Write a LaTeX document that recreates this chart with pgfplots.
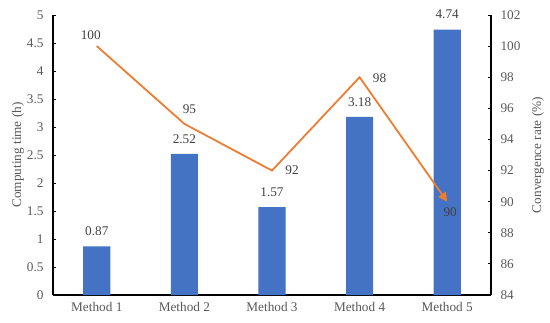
\documentclass[border=0pt]{standalone}
\usepackage{pgfplots}
\pgfplotsset{compat=1.18}
\usepackage{fontspec}
\setmainfont{Liberation Serif}
\usetikzlibrary{arrows.meta}
\definecolor{barblue}{HTML}{4472C4}
\definecolor{lineorange}{HTML}{ED7D31}
\definecolor{ticktext}{HTML}{595959}
\definecolor{datatext}{HTML}{404040}
\newcommand{\chartfont}{\fontsize{13.3}{15}\selectfont}
\begin{document}
\begin{tikzpicture}
\pgfplotsset{
  every axis/.append style={font=\chartfont},
  every tick label/.append style={font=\chartfont, color=ticktext},
  lbl/.style={only marks, mark=none, nodes near coords, point meta=explicit symbolic,
    nodes near coords style={color=datatext, font=\chartfont, anchor=center, inner sep=0pt}},
}
\begin{axis}[
  at={(0,0)}, anchor=south west,
  scale only axis, width=438bp, height=280bp,
  xmin=-0.5, xmax=4.5, ymin=0, ymax=5,
  axis y line*=left, axis x line*=bottom,
  axis line style={black, line width=1.2pt, -},
  tick align=inside, major tick length=3pt,
  tick style={black, line width=0.8pt},
  xtick={0,1,2,3,4},
  xticklabels={Method 1,Method 2,Method 3,Method 4,Method 5},
  ytick={0,0.5,...,5},
  yticklabel style={/pgf/number format/assume math mode=true, xshift=-6bp},
  xticklabel style={yshift=-4bp},
  ylabel={Computing time (h)},
  every axis y label/.style={at={(axis description cs:0,0.5)}, rotate=90, anchor=center, yshift=35bp, color=ticktext, font=\chartfont},
  nodes near coords,
  nodes near coords style={color=datatext, font=\chartfont, anchor=center, inner sep=0pt, yshift=15bp, /pgf/number format/fixed, /pgf/number format/precision=2, /pgf/number format/fixed zerofill, /pgf/number format/assume math mode=true},
]
\addplot[ybar, bar width=0.31, fill=barblue, draw=none] coordinates {(0,0.87) (1,2.52) (2,1.57) (3,3.18) (4,4.74)};
\end{axis}
\begin{axis}[
  at={(0,0)}, anchor=south west,
  scale only axis, width=438bp, height=280bp,
  xmin=-0.5, xmax=4.5, ymin=84, ymax=102,
  axis y line*=right, axis x line=none,
  axis line style={black, line width=1.2pt, -},
  tick align=inside, major tick length=3pt,
  tick style={black, line width=0.8pt},
  ytick={84,86,...,102},
  yticklabel style={/pgf/number format/assume math mode=true, xshift=6bp},
  ylabel={Convergence rate (\%)},
  every axis y label/.style={at={(axis description cs:1,0.5)}, rotate=90, anchor=center, yshift=-47bp, color=ticktext, font=\chartfont},
]
\addplot[lineorange, line width=1.8pt, -{Triangle[length=9bp,width=9bp]}] coordinates {(0,100) (1,95) (2,92) (3,98) (4,90)};
\addplot[lbl, nodes near coords style={xshift=-6bp, yshift=11bp}] coordinates {(0,100)[100]};
\addplot[lbl, nodes near coords style={xshift=5bp, yshift=15bp}] coordinates {(1,95)[95]};
\addplot[lbl, nodes near coords style={xshift=20bp, yshift=0bp}] coordinates {(2,92)[92]};
\addplot[lbl, nodes near coords style={xshift=20bp, yshift=-1bp}] coordinates {(3,98)[98]};
\addplot[lbl, nodes near coords style={xshift=3bp, yshift=-10bp}] coordinates {(4,90)[90]};
\end{axis}
\pgfresetboundingbox
\path[use as bounding box] (-53bp,-28bp) rectangle (497bp,295bp);
\end{tikzpicture}
\end{document}
